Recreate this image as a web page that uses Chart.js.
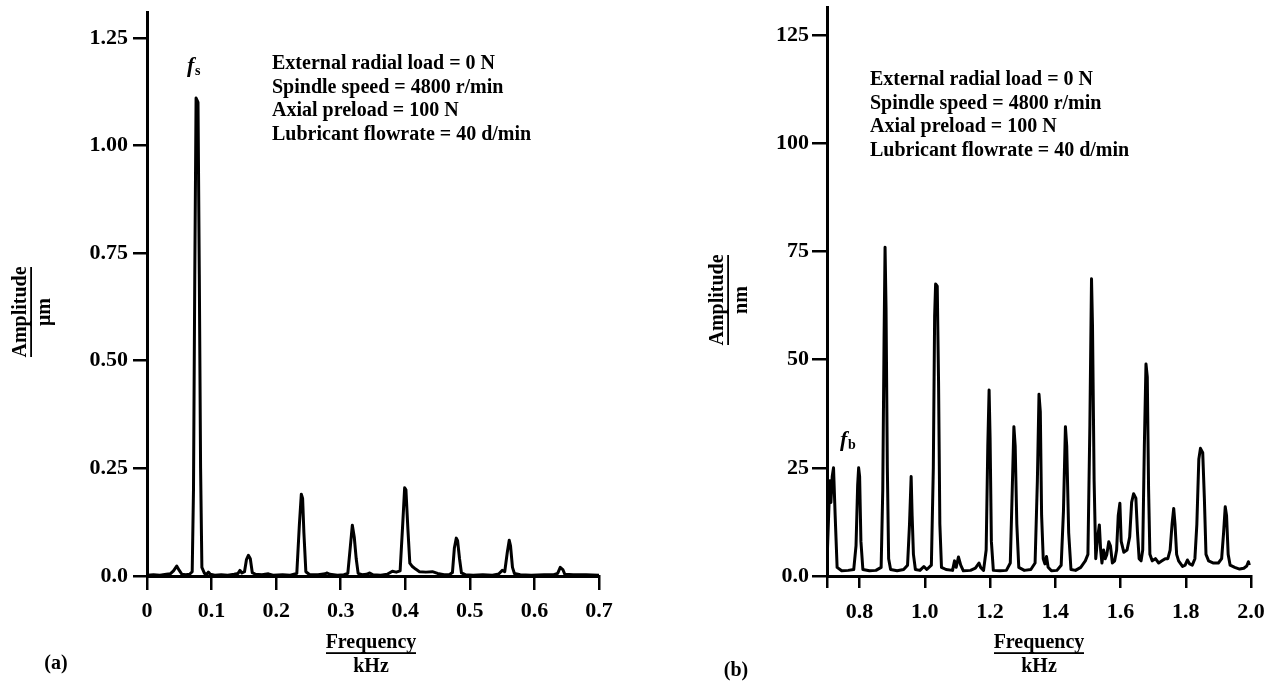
<!DOCTYPE html>
<html>
<head>
<meta charset="utf-8">
<script src="https://cdn.jsdelivr.net/npm/chart.js@4.4.1/dist/chart.umd.min.js"></script>
<style>
html, body { margin: 0; padding: 0; background: #fff; }
#wrap { position: relative; width: 1272px; height: 682px; overflow: hidden; }
.box { position: absolute; top: 0; height: 682px; }
#box-a { left: 0; width: 640px; }
#box-b { left: 640px; width: 632px; }
</style>
</head>
<body>
<div id="wrap">
  <div class="box" id="box-a"><canvas id="chart-a"></canvas></div>
  <div class="box" id="box-b"><canvas id="chart-b"></canvas></div>
</div>
<script>
// (a) spectrum, frequency in kHz, amplitude in um
const freqA = [0.000, 0.010, 0.020, 0.030, 0.036, 0.041, 0.046, 0.050, 0.054, 0.060, 0.066, 0.070, 0.072, 0.074, 0.076, 0.079, 0.081, 0.083, 0.085, 0.089,
  0.093, 0.095, 0.098, 0.105, 0.115, 0.125, 0.135, 0.141, 0.144, 0.147, 0.151, 0.154, 0.157, 0.160, 0.163, 0.168, 0.178, 0.188, 0.195, 0.210,
  0.222, 0.232, 0.236, 0.239, 0.241, 0.243, 0.246, 0.252, 0.265, 0.276, 0.279, 0.283, 0.295, 0.305, 0.311, 0.315, 0.318, 0.321, 0.324, 0.327,
  0.333, 0.340, 0.345, 0.350, 0.362, 0.372, 0.380, 0.386, 0.392, 0.396, 0.399, 0.401, 0.404, 0.407, 0.411, 0.416, 0.422, 0.432, 0.442, 0.450,
  0.460, 0.468, 0.473, 0.476, 0.479, 0.481, 0.484, 0.487, 0.493, 0.505, 0.520, 0.535, 0.545, 0.550, 0.554, 0.558, 0.561, 0.563, 0.566, 0.569,
  0.578, 0.595, 0.615, 0.630, 0.636, 0.640, 0.644, 0.647, 0.660, 0.680, 0.700];
const ampA = [0.002, 0.003, 0.002, 0.004, 0.005, 0.012, 0.023, 0.013, 0.004, 0.003, 0.004, 0.010, 0.20, 0.70, 1.11, 1.10, 0.70, 0.25, 0.02, 0.006,
  0.005, 0.009, 0.004, 0.002, 0.003, 0.002, 0.004, 0.006, 0.013, 0.007, 0.010, 0.038, 0.048, 0.040, 0.008, 0.004, 0.003, 0.005, 0.002, 0.003,
  0.002, 0.006, 0.12, 0.19, 0.18, 0.10, 0.010, 0.003, 0.003, 0.005, 0.007, 0.004, 0.002, 0.003, 0.006, 0.07, 0.118, 0.09, 0.04, 0.006,
  0.003, 0.004, 0.007, 0.003, 0.002, 0.004, 0.011, 0.009, 0.012, 0.12, 0.205, 0.20, 0.11, 0.03, 0.022, 0.016, 0.010, 0.009, 0.010, 0.006,
  0.003, 0.003, 0.008, 0.065, 0.088, 0.082, 0.04, 0.007, 0.003, 0.002, 0.003, 0.002, 0.005, 0.013, 0.010, 0.055, 0.083, 0.07, 0.02, 0.006,
  0.003, 0.002, 0.003, 0.003, 0.006, 0.020, 0.015, 0.004, 0.003, 0.003, 0.002];

// (b) spectrum, frequency in kHz, amplitude in nm
const freqB = [0.700, 0.705, 0.709, 0.712, 0.716, 0.720, 0.725, 0.731, 0.745, 0.765, 0.782, 0.789, 0.794, 0.797, 0.800, 0.804, 0.810, 0.830, 0.850, 0.866,
  0.871, 0.875, 0.878, 0.881, 0.885, 0.889, 0.895, 0.915, 0.935, 0.947, 0.953, 0.958, 0.961, 0.965, 0.971, 0.985, 0.997, 1.006, 1.020, 1.026,
  1.030, 1.033, 1.038, 1.042, 1.046, 1.051, 1.065, 1.085, 1.091, 1.096, 1.103, 1.110, 1.118, 1.140, 1.155, 1.166, 1.171, 1.180, 1.188, 1.193,
  1.197, 1.200, 1.204, 1.210, 1.230, 1.250, 1.262, 1.268, 1.273, 1.277, 1.282, 1.288, 1.305, 1.325, 1.338, 1.345, 1.350, 1.354, 1.358, 1.363,
  1.368, 1.373, 1.378, 1.388, 1.405, 1.418, 1.425, 1.431, 1.435, 1.441, 1.448, 1.462, 1.478, 1.492, 1.500, 1.506, 1.511, 1.514, 1.519, 1.524,
  1.530, 1.535, 1.539, 1.543, 1.548, 1.553, 1.558, 1.564, 1.569, 1.575, 1.582, 1.588, 1.593, 1.598, 1.602, 1.610, 1.620, 1.628, 1.634, 1.640,
  1.647, 1.652, 1.657, 1.663, 1.668, 1.673, 1.678, 1.682, 1.686, 1.690, 1.697, 1.707, 1.717, 1.727, 1.737, 1.745, 1.752, 1.758, 1.763, 1.767,
  1.772, 1.778, 1.790, 1.798, 1.805, 1.812, 1.820, 1.828, 1.834, 1.840, 1.845, 1.852, 1.857, 1.862, 1.870, 1.885, 1.900, 1.910, 1.916, 1.921,
  1.925, 1.930, 1.936, 1.950, 1.965, 1.978, 1.987, 1.992, 1.995];
const ampB = [3, 14, 22, 17, 23, 25, 14, 2, 1.2, 1.3, 1.5, 7, 21, 25, 23, 8, 1.5, 1.2, 1.3, 2,
  20, 55, 76, 62, 25, 4, 1.5, 1.2, 1.5, 2.5, 12, 23, 14, 5, 1.5, 1.3, 2.2, 1.5, 2.5, 25,
  60, 67.5, 67, 45, 12, 2, 1.5, 1.3, 3.5, 2, 4.4, 2.5, 1.2, 1.3, 1.8, 3, 2, 1.3, 6, 30,
  43, 32, 8, 1.3, 1.2, 1.3, 3, 20, 34.5, 30, 12, 2, 1.3, 1.5, 3, 22, 42, 38, 14, 4,
  2.8, 4.5, 2, 1.2, 1.3, 2.5, 15, 34.5, 30, 10, 1.5, 1.3, 2, 3.5, 5, 35, 68.7, 58, 22, 4,
  9, 11.8, 6, 3, 6, 4, 5, 7.9, 7, 3, 3.5, 6, 14, 16.8, 8, 5.5, 6, 9, 17, 19,
  18, 10, 4, 3.5, 6, 30, 49, 46, 20, 5, 3.5, 4, 3, 3.5, 4, 4, 6, 12, 15.6, 12,
  5, 3.5, 2.2, 2.5, 3.7, 2.8, 2.5, 4, 12, 27, 29.5, 28.5, 18, 5, 3.5, 3, 3, 4, 10, 16,
  14, 5, 2.5, 2, 1.6, 1.8, 2.3, 3.3, 2.5];

// tick values and their labels
const xTicksA = [0, 0.1, 0.2, 0.3, 0.4, 0.5, 0.6, 0.7];
const xLabelsA = ["0", "0.1", "0.2", "0.3", "0.4", "0.5", "0.6", "0.7"];
const yTicksA = [0, 0.25, 0.5, 0.75, 1.0, 1.25];
const yLabelsA = ["0.0", "0.25", "0.50", "0.75", "1.00", "1.25"];
const xTicksB = [0.7, 0.8, 1.0, 1.2, 1.4, 1.6, 1.8, 2.0];
const xLabelsB = ["", "0.8", "1.0", "1.2", "1.4", "1.6", "1.8", "2.0"];
const yTicksB = [0, 25, 50, 75, 100, 125];
const yLabelsB = ["0.0", "25", "50", "75", "100", "125"];

const conditions = [
    "External radial load = 0 N",
    "Spindle speed = 4800 r/min",
    "Axial preload = 100 N",
    "Lubricant flowrate = 40 d/min",
];

const SERIF = '"Liberation Serif", "Times New Roman", serif';

function fraction(ctx, top, bottom, cx, cy, len, vertical) {
    ctx.save();
    ctx.translate(cx, cy);
    if (vertical) ctx.rotate(-Math.PI / 2);
    ctx.textAlign = "center";
    ctx.textBaseline = "alphabetic";
    ctx.fillText(top, 0, -5);
    ctx.fillRect(-len / 2, -0.8, len, 1.8);
    ctx.textBaseline = "top";
    ctx.fillText(bottom, 0, 4);
    ctx.restore();
}

// axis titles, condition list and peak marks
const notes = {
    id: "notes",
    afterDraw(chart, args, o) {
        const ctx = chart.ctx;
        ctx.save();
        ctx.fillStyle = "#000";
        ctx.font = "bold 20px " + SERIF;
        fraction(ctx, "Amplitude", o.unit, o.ampX, o.ampY, 90, true);
        fraction(ctx, "Frequency", "kHz", o.freqX, 653, 90, false);

        ctx.textAlign = "left";
        ctx.textBaseline = "middle";
        conditions.forEach((t, i) => ctx.fillText(t, o.textX, o.textY + i * 23.5));

        ctx.textAlign = "center";
        ctx.fillText(o.panel, o.panelX, o.panelY);

        ctx.textAlign = "left";
        ctx.font = "italic bold 22px " + SERIF;
        ctx.fillText("f", o.markX, o.markY);
        ctx.font = "bold 14px " + SERIF;
        ctx.fillText(o.markSub, o.markX + 8, o.markY + 5);
        ctx.restore();
    },
};

function axisFont() {
    return { family: SERIF, size: 22, weight: "bold" };
}

function makeChart(id, freq, amp, xs, ys, notesOpts) {
    new Chart(document.getElementById(id), {
        type: "line",
        data: {
            datasets: [
                {
                    data: freq.map((f, i) => ({ x: f, y: amp[i] })),
                    borderColor: "#000",
                    borderWidth: 3,
                    borderJoinStyle: "round",
                    pointRadius: 0,
                    tension: 0,
                    fill: false,
                },
            ],
        },
        options: {
            responsive: true,
            maintainAspectRatio: false,
            animation: false,
            layout: { padding: xs.pad },
            plugins: {
                legend: { display: false },
                tooltip: { enabled: false },
                notes: notesOpts,
            },
            scales: {
                x: {
                    type: "linear",
                    min: xs.min,
                    max: xs.max,
                    afterBuildTicks: (s) => { s.ticks = xs.ticks.map((v) => ({ value: v })); },
                    afterFit: (s) => { s.height = 106; s.paddingLeft = 0; s.paddingRight = 0; },
                    border: { display: true, color: "#000", width: 3 },
                    grid: { display: true, drawOnChartArea: false, drawTicks: true, tickLength: xs.tickLength, color: "#000", lineWidth: 2.5 },
                    ticks: {
                        color: "#000",
                        padding: xs.tickPad,
                        maxRotation: 0,
                        autoSkip: false,
                        font: axisFont(),
                        callback: (v, i) => xs.labels[i],
                    },
                },
                y: {
                    type: "linear",
                    min: 0,
                    max: ys.max,
                    afterBuildTicks: (s) => { s.ticks = ys.ticks.map((v) => ({ value: v })); },
                    afterFit: (s) => { s.width = ys.width; s.paddingTop = 0; s.paddingBottom = 0; },
                    border: { display: true, color: "#000", width: 3 },
                    grid: { display: true, drawOnChartArea: false, drawTicks: true, tickLength: ys.tickLength, color: "#000", lineWidth: 2.5 },
                    ticks: {
                        color: "#000",
                        padding: ys.tickPad,
                        autoSkip: false,
                        font: axisFont(),
                        callback: (v, i) => ys.labels[i],
                    },
                },
            },
        },
        plugins: [notes],
    });
}

makeChart("chart-a", freqA, ampA,
    { min: 0, max: 0.7, ticks: xTicksA, labels: xLabelsA, tickLength: 14, tickPad: 8, pad: { top: 12, right: 41, left: 0, bottom: 0 } },
    { max: 1.31, ticks: yTicksA, labels: yLabelsA, width: 147, tickLength: 14, tickPad: 5 },
    { unit: "\u03bcm", ampX: 31, ampY: 312, freqX: 371, textX: 272, textY: 64, panel: "(a)", panelX: 56, panelY: 664, markX: 187, markY: 66, markSub: "s" });

makeChart("chart-b", freqB, ampB,
    { min: 0.7, max: 2.0, ticks: xTicksB, labels: xLabelsB, tickLength: 12, tickPad: 11, pad: { top: 7, right: 21, left: 0, bottom: 0 } },
    { max: 131.5, ticks: yTicksB, labels: yLabelsB, width: 187, tickLength: 15, tickPad: 3 },
    { unit: "nm", ampX: 88, ampY: 300, freqX: 399, textX: 230, textY: 80, panel: "(b)", panelX: 96, panelY: 671, markX: 200, markY: 440, markSub: "b" });
</script>
</body>
</html>
